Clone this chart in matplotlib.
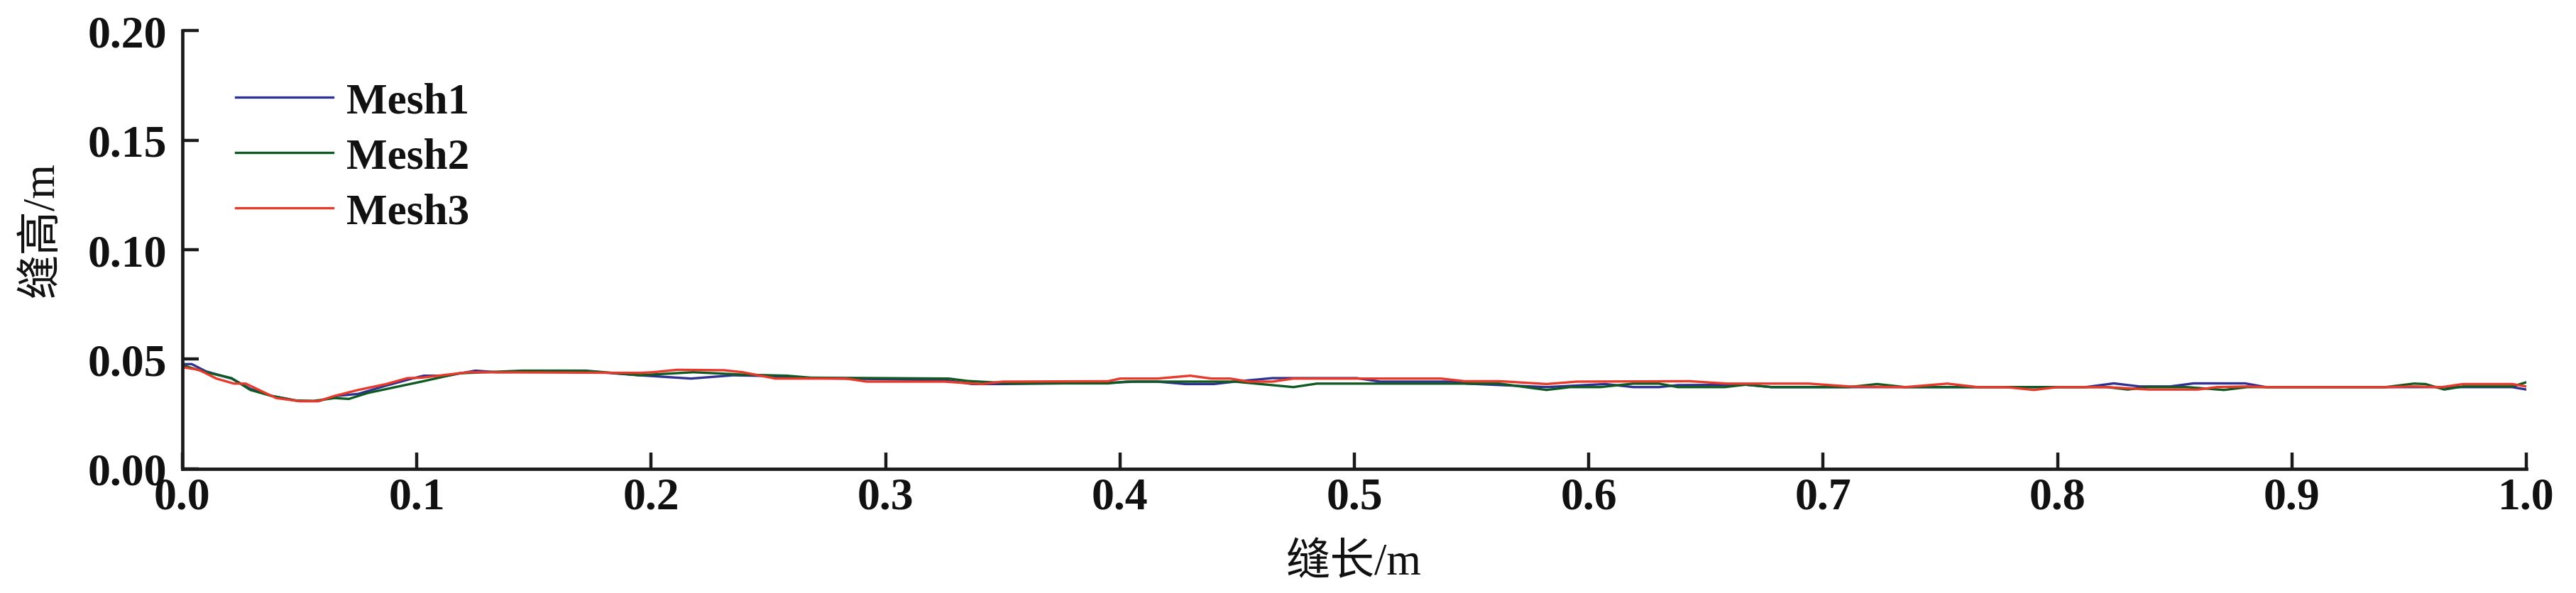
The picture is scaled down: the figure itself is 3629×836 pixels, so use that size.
import matplotlib
matplotlib.use('Agg')
import matplotlib.pyplot as plt

# values (seam length / seam height, m)
mesh1_x = [0.0, 0.004, 0.010, 0.021, 0.029, 0.038, 0.050, 0.058, 0.066, 0.075, 0.087, 0.098,
           0.103, 0.113, 0.125, 0.134, 0.172, 0.195, 0.217, 0.235, 0.253, 0.268, 0.325, 0.337,
           0.350, 0.395, 0.407, 0.416, 0.428, 0.440, 0.449, 0.465, 0.501, 0.511, 0.542, 0.548,
           0.582, 0.607, 0.619, 0.630, 0.638, 0.667, 0.678, 0.812, 0.824, 0.835, 0.848, 0.858,
           0.880, 0.889, 0.994, 1.0]
mesh1_y = [0.0478, 0.0478, 0.0445, 0.0412, 0.0365, 0.0333, 0.0309, 0.0309, 0.0333, 0.0342, 0.0380, 0.0412,
           0.0425, 0.0425, 0.0448, 0.0441, 0.0446, 0.0427, 0.0412, 0.0427, 0.0423, 0.0414, 0.0405, 0.0387,
           0.0387, 0.0393, 0.0398, 0.0398, 0.0387, 0.0387, 0.0398, 0.0414, 0.0414, 0.0398, 0.0398, 0.0389,
           0.0373, 0.0387, 0.0373, 0.0373, 0.0382, 0.0384, 0.0373, 0.0373, 0.0390, 0.0376, 0.0376, 0.0390,
           0.0390, 0.0373, 0.0373, 0.0362]

mesh2_x = [0.0, 0.010, 0.021, 0.029, 0.038, 0.048, 0.056, 0.065, 0.071, 0.079, 0.090, 0.102,
           0.118, 0.145, 0.172, 0.180, 0.195, 0.218, 0.239, 0.258, 0.268, 0.327, 0.335, 0.354,
           0.395, 0.403, 0.449, 0.474, 0.484, 0.562, 0.582, 0.592, 0.605, 0.619, 0.630, 0.638,
           0.658, 0.667, 0.678, 0.711, 0.723, 0.735, 0.821, 0.830, 0.839, 0.855, 0.871, 0.881,
           0.940, 0.952, 0.957, 0.965, 0.973, 0.994, 1.0]
mesh2_y = [0.0473, 0.0441, 0.0414, 0.0360, 0.0333, 0.0312, 0.0310, 0.0323, 0.0319, 0.0346, 0.0371, 0.0398,
           0.0436, 0.0448, 0.0448, 0.0441, 0.0427, 0.0441, 0.0430, 0.0425, 0.0416, 0.0412, 0.0401, 0.0390,
           0.0390, 0.0398, 0.0398, 0.0373, 0.0389, 0.0389, 0.0360, 0.0373, 0.0373, 0.0389, 0.0389, 0.0373,
           0.0373, 0.0384, 0.0373, 0.0373, 0.0387, 0.0373, 0.0373, 0.0362, 0.0373, 0.0373, 0.0360, 0.0373,
           0.0373, 0.0389, 0.0387, 0.0362, 0.0376, 0.0376, 0.0395]

mesh3_x = [0.0, 0.007, 0.0145, 0.022, 0.027, 0.040, 0.050, 0.058, 0.065, 0.075, 0.087, 0.096,
           0.102, 0.122, 0.195, 0.201, 0.211, 0.231, 0.239, 0.253, 0.283, 0.292, 0.325, 0.341,
           0.350, 0.395, 0.400, 0.416, 0.430, 0.439, 0.447, 0.455, 0.465, 0.474, 0.537, 0.547,
           0.562, 0.582, 0.595, 0.643, 0.659, 0.694, 0.711, 0.735, 0.753, 0.766, 0.778, 0.790,
           0.800, 0.821, 0.839, 0.860, 0.868, 0.881, 0.889, 0.940, 0.952, 0.964, 0.973, 0.994, 1.0]
mesh3_y = [0.0464, 0.0452, 0.0412, 0.0389, 0.0389, 0.0323, 0.0309, 0.0309, 0.0333, 0.0360, 0.0387, 0.0414,
           0.0416, 0.0441, 0.0438, 0.0441, 0.0452, 0.0450, 0.0441, 0.0412, 0.0412, 0.0398, 0.0398, 0.0387,
           0.0398, 0.0400, 0.0412, 0.0412, 0.0425, 0.0412, 0.0412, 0.0398, 0.0398, 0.0412, 0.0412, 0.0400,
           0.0400, 0.0387, 0.0398, 0.0400, 0.0389, 0.0389, 0.0376, 0.0373, 0.0389, 0.0373, 0.0373, 0.0360,
           0.0373, 0.0373, 0.0362, 0.0362, 0.0373, 0.0376, 0.0373, 0.0373, 0.0376, 0.0373, 0.0387, 0.0387, 0.0376]

labels = ['Mesh1', 'Mesh2', 'Mesh3']
colors = ['#2e3192', '#0f5a22', '#e8392a']
x_ticks = [0.0, 0.1, 0.2, 0.3, 0.4, 0.5, 0.6, 0.7, 0.8, 0.9, 1.0]
y_ticks = [0.00, 0.05, 0.10, 0.15, 0.20]

serif = ['Liberation Serif', 'Noto Sans CJK SC']
plt.rcParams['font.family'] = serif
plt.rcParams['font.weight'] = 'bold'

fig = plt.figure(figsize=(36.29, 8.37), dpi=100)
ax = fig.add_axes([0.0708, 0.2091, 0.9099, 0.7383])

series = [(mesh1_x, mesh1_y), (mesh2_x, mesh2_y), (mesh3_x, mesh3_y)]
for (xs, ys), lab, c in zip(series, labels, colors):
    ax.plot(xs, ys, color=c, lw=2.4, label=lab)

ax.set_xlim(0, 1.0)
ax.set_ylim(0, 0.20)
ax.set_xticks(x_ticks)
ax.set_xticklabels(['%.1f' % v for v in x_ticks])
ax.set_yticks(y_ticks)
ax.set_yticklabels(['%.2f' % v for v in y_ticks])

for s in ['top', 'right']:
    ax.spines[s].set_visible(False)
for s in ['left', 'bottom']:
    ax.spines[s].set_linewidth(3.4)
    ax.spines[s].set_color('#1a1a1a')

ax.tick_params(axis='both', direction='in', length=16.5, width=3.2, color='#1a1a1a',
               labelsize=46, labelcolor='#111111')
ax.tick_params(axis='x', pad=8)
ax.tick_params(axis='y', pad=16)

leg = ax.legend(loc='upper left', bbox_to_anchor=(0.0227, 0.8825), frameon=False,
                prop={'size': 44, 'weight': 'bold'}, handlelength=2.25, handletextpad=0.3,
                labelspacing=0.36, borderpad=0, borderaxespad=0)
for t in leg.get_texts():
    t.set_color('#111111')

fig.text(0.5255, 0.050, '缝长/m', ha='center', va='center', fontsize=45, family=serif,
         weight='normal', color='#111111')
fig.text(0.0165, 0.613, '缝高/m', ha='center', va='center', rotation=90, fontsize=45,
         family=serif, weight='normal', color='#111111')

fig.savefig('out.png', dpi=100)
